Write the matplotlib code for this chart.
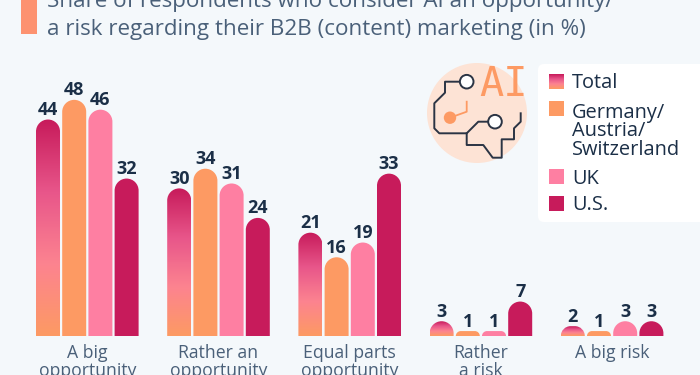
import matplotlib
matplotlib.use("Agg")
import matplotlib.pyplot as plt
import numpy as np
from matplotlib.colors import LinearSegmentedColormap
from matplotlib.patches import Circle, FancyBboxPatch, PathPatch, Rectangle
from matplotlib.path import Path

categories = ["A big\nopportunity", "Rather an\nopportunity", "Equal parts\nopportunity",
              "Rather\na risk", "A big risk"]
series_names = ["Total", "Germany/\nAustria/\nSwitzerland", "UK", "U.S."]
total = [44, 30, 21, 3, 2]
dach = [48, 34, 16, 1, 1]
uk = [46, 31, 19, 1, 3]
us = [32, 24, 33, 7, 3]
title_lines = ["Share of respondents who consider AI an opportunity/",
               "a risk regarding their B2B (content) marketing (in %)"]

BG = "#f4f8fb"
DARK = "#1b2f47"
TITLE = "#4a6079"
ORANGE = "#fd9a63"
PINK = "#fe7fa2"
CRIMSON = "#c71b5b"
grad = LinearSegmentedColormap.from_list("total", [CRIMSON, "#e8568a", "#fc8390", ORANGE])

plt.rcParams["font.family"] = ["Open Sans", "DejaVu Sans"]
fig = plt.figure(figsize=(7, 3.75), dpi=100, facecolor=BG)

# pixel overlay for title, icon and legend
bg = fig.add_axes([0, 0, 1, 1], zorder=0)
bg.set_xlim(0, 700)
bg.set_ylim(375, 0)
bg.axis("off")

# bar axes, baseline at y=336
PX_X = 131.2
PX_Y = 4.92
ax = fig.add_axes([0, 39 / 375, 1, 336 / 375], zorder=1)
ax.patch.set_alpha(0)
xlim = (-87.3 / PX_X, (700 - 87.3) / PX_X)
ylim = (0, 336 / PX_Y)
BW = 24 / PX_X
STEP = 26.2 / PX_X


def round_bar(x, h):
    # bar with a rounded top, radius limited by the height
    w = BW
    r_px = min(12, h * PX_Y)
    rx = r_px / PX_X
    ry = r_px / PX_Y
    k = 0.5523
    x0, x1 = x - w / 2, x + w / 2
    verts = [(x0, 0), (x0, h - ry),
             (x0, h - ry + k * ry), (x0 + rx - k * rx, h), (x0 + rx, h),
             (x1 - rx, h),
             (x1 - rx + k * rx, h), (x1, h - ry + k * ry), (x1, h - ry),
             (x1, 0), (x0, 0)]
    codes = [Path.MOVETO, Path.LINETO,
             Path.CURVE4, Path.CURVE4, Path.CURVE4,
             Path.LINETO,
             Path.CURVE4, Path.CURVE4, Path.CURVE4,
             Path.LINETO, Path.CLOSEPOLY]
    return Path(verts, codes)


series = [total, dach, uk, us]
colors = [None, ORANGE, PINK, CRIMSON]
for j, vals in enumerate(series):
    for i, v in enumerate(vals):
        x = i + (j - 1.5) * STEP
        if colors[j] is None:
            patch = PathPatch(round_bar(x, v), fc="none", ec="none")
            ax.add_patch(patch)
            im = ax.imshow(np.linspace(0, 1, 128).reshape(-1, 1), cmap=grad, aspect="auto",
                           extent=(x - BW / 2, x + BW / 2, 0, v), origin="upper")
            im.set_clip_path(patch)
        else:
            ax.add_patch(PathPatch(round_bar(x, v), fc=colors[j], ec="none"))
        ax.text(x, v + 0.9, str(v), ha="center", va="baseline", fontsize=13,
                fontweight="bold", color=DARK)

ax.set_xlim(xlim)
ax.set_ylim(ylim)
ax.set_yticks([])
ax.set_xticks(range(len(categories)))
ax.set_xticklabels(categories, fontsize=12.7, color=TITLE, linespacing=1.0)
ax.tick_params(axis="x", length=0, pad=6)
for s in ax.spines.values():
    s.set_visible(False)

# title
bg.add_patch(Rectangle((21, -5), 16, 39, fc="#fd9270", ec="none"))
bg.text(47, 7, title_lines[0], fontsize=16.1, color=TITLE, va="baseline")
bg.text(47, 35, title_lines[1], fontsize=16.1, color=TITLE, va="baseline")

# icon
bg.add_patch(Circle((477, 113), 50, fc="#fde3d5", ec="none"))
line1 = [(459.5, 81.7), (445, 81.7), (445, 92.7), (434.3, 103.3), (434.3, 128.3), (439.3, 133.3),
         (466.7, 133.3), (478.3, 121.7), (488, 121.7)]
line2 = [(466.7, 133.3), (466.7, 145), (483.3, 145), (492.7, 157.7), (501.7, 157.7), (501.7, 139.3),
         (514, 139.3), (514, 128.3), (520.7, 121.7), (520.7, 113.3)]
line3 = [(450, 117.7), (466.7, 111.7), (466.7, 101.7)]
bg.plot(*zip(*line1), color="#2b3444", lw=1.4)
bg.plot(*zip(*line2), color="#2b3444", lw=1.4)
bg.plot(*zip(*line3), color=ORANGE, lw=1.3)
bg.add_patch(Circle((466.7, 81.7), 6.8, fc="white", ec="#2b3444", lw=1.4, zorder=3))
bg.add_patch(Circle((495, 121.7), 6.8, fc="white", ec="#2b3444", lw=1.4, zorder=3))
bg.add_patch(Circle((450, 117.7), 6.2, fc=ORANGE, ec="none", zorder=3))
bg.text(503.5, 85, "AI", fontsize=29, color=ORANGE, ha="center", va="center",
        family=["DejaVu Sans Mono"], fontweight="light", stretch="condensed")

# legend box
bg.add_patch(FancyBboxPatch((538, 64), 175, 158, boxstyle="round,pad=0,rounding_size=6",
                            fc="white", ec="none"))
sw_y = [81.5, 108.5, 176.5, 203.5]
text_y = [83.5, 131.5, 178.5, 205.5]
for k, name in enumerate(series_names):
    if k == 0:
        bg.imshow(np.linspace(0, 1, 32).reshape(-1, 1), cmap=grad, aspect="auto",
                  extent=(549, 564, sw_y[k] + 7.5, sw_y[k] - 7.5), origin="upper", zorder=2)
    else:
        bg.add_patch(Rectangle((549, sw_y[k] - 7.5), 15, 15, fc=colors[k], ec="none", zorder=2))
    bg.text(572, text_y[k], name, fontsize=14.4, color=DARK, va="center", linespacing=0.93)
bg.set_xlim(0, 700)
bg.set_ylim(375, 0)

fig.savefig("out.png", dpi=100, facecolor=BG)
